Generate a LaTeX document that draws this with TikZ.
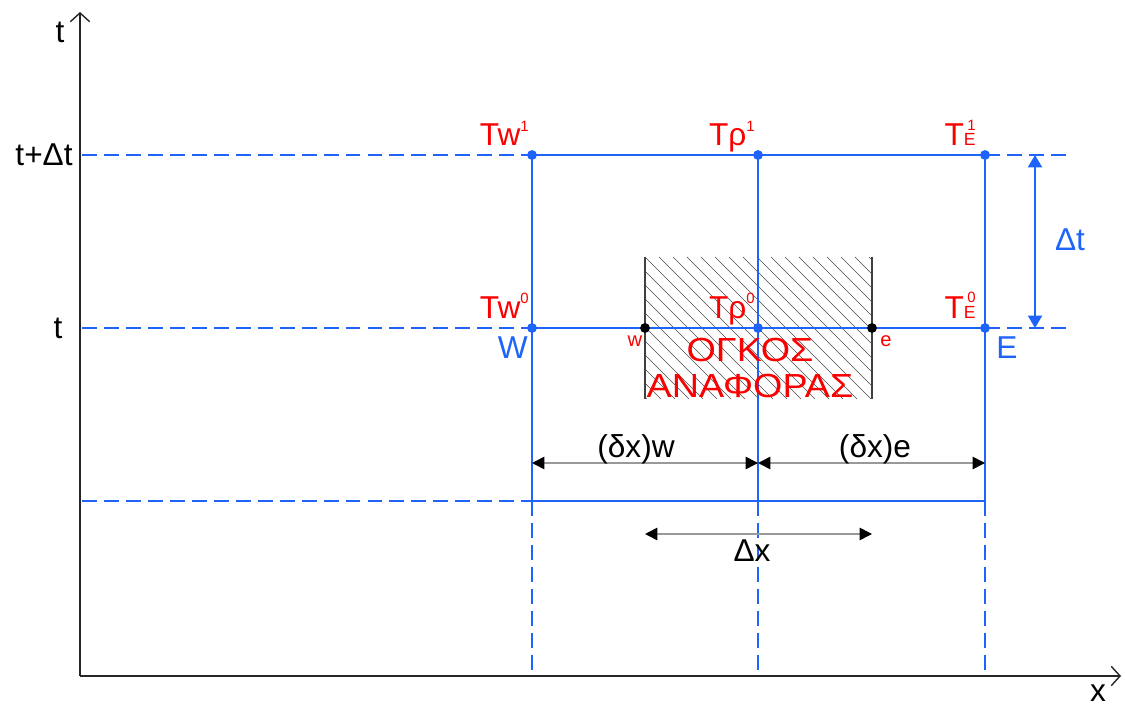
\documentclass[tikz,border=0pt]{standalone}
\usepackage{fontspec}
\setmainfont{Liberation Sans}
\usetikzlibrary{arrows.meta, positioning, calc, backgrounds}

\definecolor{gridblue}{RGB}{30,100,250}
\definecolor{lblred}{RGB}{250,0,0}

\newcommand{\tsup}[2][8pt]{\raisebox{#1}{\fontsize{8.5}{9}\selectfont #2}}
\newcommand{\tsubE}{{\fontsize{10}{11}\selectfont E}}

\begin{document}
\begin{tikzpicture}[
    x=0.02cm, y=-0.02cm,
    font=\fontsize{18}{20}\selectfont,
    gridline/.style={gridblue, line width=0.8pt},
    dashline/.style={gridblue, line width=0.8pt, dash pattern=on 8.5pt off 4pt},
    bdot/.style={circle, fill=gridblue, inner sep=0pt, minimum size=5.6pt},
    kdot/.style={circle, fill=black, inner sep=0pt, minimum size=5.6pt},
    templbl/.style={text=lblred, inner sep=0pt},
    smalllbl/.style={text=lblred, inner sep=0pt, font=\fontsize{11.5}{12}\selectfont},
    ptlbl/.style={text=gridblue, inner sep=0pt},
    axis/.style={-{Straight Barb[length=5pt, width=11pt]}, line width=0.8pt, black!85},
    dimarrow/.style={{Triangle[length=7pt, width=7pt, color=black]}-{Triangle[length=7pt, width=7pt, color=black]}, black!40, line width=0.9pt},
    tarrow/.style={{Triangle[length=7pt, width=8pt]}-{Triangle[length=7pt, width=8pt]}, gridblue, line width=0.9pt},
    hatch/.style={black!70, line width=0.35pt}
]
    \useasboundingbox (0,0) rectangle (1125,709);

    % axes
    \coordinate (O) at (80,676);
    \coordinate (ttop) at (80,12);
    \coordinate (xend) at (1121,676);
    \draw[axis] (O) -- (ttop);
    \draw[axis] (O) -- (xend);
    \node (taxis) at (60,32) {t};
    \node (xaxis) at (1098,693) {x};
    \node[anchor=east, inner sep=0pt] (tdt) at (73,155) {t+Δt};
    \node (tnow) at (58,328) {t};

    % grid points
    \node[bdot] (W1) at (532,155) {};
    \node[bdot] (P1) at (758,155) {};
    \node[bdot] (E1) at (985,155) {};
    \node[bdot] (W0) at (532,328) {};
    \node[bdot] (P0) at (758,328) {};
    \node[bdot] (E0) at (985,328) {};
    \node[kdot] (w0) at (645,328) {};
    \node[kdot] (e0) at (872,328) {};
    \coordinate (Wb) at (532,501);
    \coordinate (Pb) at (758,501);
    \coordinate (Eb) at (985,501);
    \coordinate (Wx) at (532,676);
    \coordinate (Px) at (758,676);
    \coordinate (Ex) at (985,676);
    \coordinate (L1) at (82,155);
    \coordinate (L0) at (82,328);
    \coordinate (Lb) at (82,501);
    \coordinate (R1) at (1072,155);
    \coordinate (R0) at (1072,328);

    \begin{scope}[on background layer]
        % control volume
        \begin{scope}
            \clip (645,257) rectangle (872,399);
            \foreach \s in {491,505,...,872}
                \draw[hatch] (\s,257) -- ++(142,142);
        \end{scope}
        \draw[black!75, line width=0.6pt] (645,257) -- (645,399);
        \draw[black!75, line width=0.6pt] (872,257) -- (872,399);

        % time levels
        \draw[dashline] (L1) -- (W1.center);
        \draw[gridline] (W1.center) -- (E1.center);
        \draw[dashline] (E1.center) -- (R1);
        \draw[dashline] (L0) -- (W0.center);
        \draw[gridline] (W0.center) -- (E0.center);
        \draw[dashline] (E0.center) -- (R0);
        \draw[dashline] (Lb) -- (Wb);
        \draw[gridline] (Wb) -- (Eb);

        % nodes in x
        \draw[gridline] (W1.center) -- (Wb);
        \draw[gridline] (P1.center) -- (Pb);
        \draw[gridline] (E1.center) -- (Eb);
        \draw[dashline] (Wb) -- (Wx);
        \draw[dashline] (Pb) -- (Px);
        \draw[dashline] (Eb) -- (Ex);
    \end{scope}

    % temperatures
    \node[templbl, anchor=base east] (Tw1) at ($(W1)+(-3,-9)$) {Tw\tsup{1}};
    \node[templbl, anchor=base east] (Tp1) at ($(P1)+(-3,-9)$) {Tρ\tsup{1}};
    \node[templbl, anchor=base east] (TE1) at ($(E1)+(-9,-9)$) {T\tsubE\llap{\tsup[9pt]{1}}};
    \node[templbl, anchor=base east] (Tw0) at ($(W0)+(-3,-10)$) {Tw\tsup{0}};
    \node[templbl, anchor=base east] (Tp0) at ($(P0)+(-3,-10)$) {Tρ\tsup{0}};
    \node[templbl, anchor=base east] (TE0) at ($(E0)+(-9,-10)$) {T\tsubE\llap{\tsup[9pt]{0}}};

    \node[ptlbl, anchor=north east] (Wlbl) at ($(W0)+(-4,8)$) {W};
    \node[ptlbl, anchor=north west] (Elbl) at ($(E0)+(11,8)$) {E};
    \node[smalllbl] (wlbl) at ($(w0)+(-10,13)$) {w};
    \node[smalllbl] (elbl) at ($(e0)+(14,13)$) {e};
    \node[templbl, align=center, font=\fontsize{19}{20.5}\selectfont] (cv) at (750,368)
        {\scalebox{1.13}[1]{ΟΓΚΟΣ}\\\scalebox{1.13}[1]{ΑΝΑΦΟΡΑΣ}};

    % spacings
    \coordinate (dwl) at (532,463);
    \coordinate (dwr) at (758,463);
    \coordinate (der) at (985,463);
    \draw[dimarrow] (dwl) -- (dwr);
    \draw[dimarrow] (dwr) -- (der);
    \node[anchor=base, inner sep=0pt] (dxw) at (636,457) {(δx)w};
    \node[anchor=base, inner sep=0pt] (dxe) at (875,457) {(δx)e};

    \coordinate (Dxl) at (645,534);
    \coordinate (Dxr) at (872,534);
    \draw[dimarrow] (Dxl) -- (Dxr);
    \node (Dx) at (752,551) {Δx};

    \coordinate (Dtt) at (1035,155);
    \coordinate (Dtb) at (1035,328);
    \draw[tarrow] (Dtt) -- (Dtb);
    \node[text=gridblue] (Dt) at (1070,240) {Δt};
\end{tikzpicture}
\end{document}
